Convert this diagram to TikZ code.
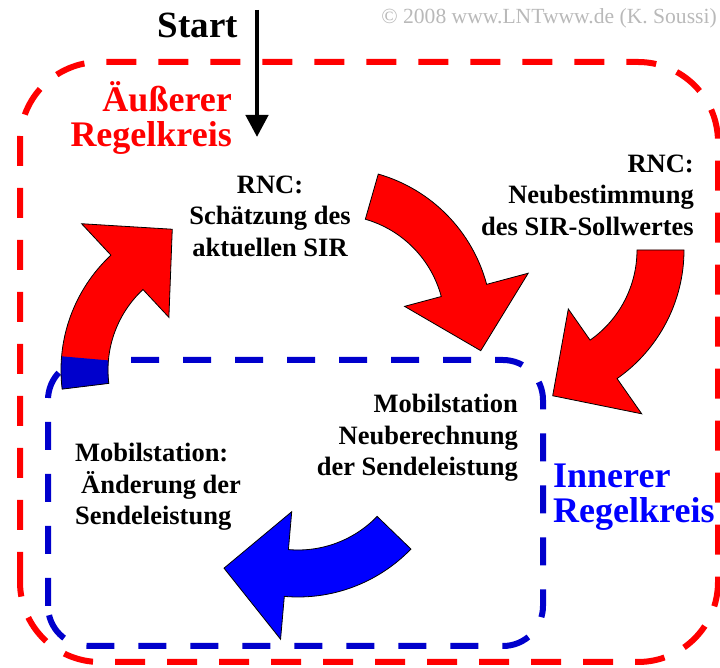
\documentclass[tikz,border=0pt]{standalone}
\usepackage{fontspec}
\setmainfont{Liberation Serif}
\usepackage{tikz}
\usetikzlibrary{arrows.meta,positioning}
\definecolor{loopred}{HTML}{FF0000}
\definecolor{loopblue}{HTML}{0000CC}
\definecolor{arrowblue}{HTML}{0000FF}
\definecolor{graytext}{HTML}{B9B9B9}
\newcommand{\bendarrow}[4]{%
  \path[#1, shift={#2}] (#3:157pt) arc[start angle=#3, end angle=#4, radius=157pt]
    -- (#4:200pt) -- ({#4-25}:148pt) -- (#4:72pt) -- (#4:110pt)
    arc[start angle=#4, end angle=#3, radius=110pt] -- cycle;}

\begin{document}
\begin{tikzpicture}[
  x=1pt, y=1pt,
  outerloop/.style={draw=loopred, line width=6pt, dash pattern=on 30pt off 22pt},
  innerloop/.style={draw=loopblue, line width=6pt, dash pattern=on 28pt off 24pt},
  bent/.style={draw=black, line width=0.8pt},
  label/.style={font=\bfseries\fontsize{26.5}{31.5}\selectfont, align=center, inner sep=0pt},
  looptitle/.style={font=\bfseries\fontsize{36}{35}\selectfont, inner sep=0pt},
  startarrow/.style={-{Triangle[length=22pt,width=22pt]}, line width=4.5pt}
]
\useasboundingbox (0,0) rectangle (720,668);
\draw[outerloop, rounded corners=80pt] (20,6) rectangle (718,606);
\draw[innerloop, rounded corners=40pt] (48,22) rectangle (543,308);

\bendarrow{fill=loopred}{(218,298)}{187}{133}
\fill[loopblue, shift={(218,298)}] (187:157pt) arc[start angle=187, end angle=175, radius=157pt]
  -- (175:110pt) arc[start angle=175, end angle=187, radius=110pt] -- cycle;
\bendarrow{bent}{(218,298)}{187}{133}
\bendarrow{bent, fill=loopred}{(335,343)}{74}{15}
\bendarrow{bent, fill=loopred}{(527,418)}{0}{-55}
\bendarrow{bent, fill=arrowblue}{(298,228)}{-44}{-95}

\node[font=\bfseries\fontsize{37}{40}\selectfont, inner sep=0pt] (start) at (198,643) {Start};
\coordinate (starttop) at (257,658);
\coordinate (startend) at (257,531);
\draw[startarrow] (starttop) -- (startend);
\node[anchor=east, text=graytext, font=\fontsize{21.6}{24}\selectfont, inner sep=0pt] (copyright)
  at (717,650) {© 2008 www.LNTwww.de (K. Soussi)};

\node[looptitle, text=loopred, align=right, anchor=east] (outertitle) at (232,550) {Äußerer\\Regelkreis};
\node[looptitle, text=arrowblue, align=left, anchor=west] (innertitle) at (553,171) {Innerer\\Regelkreis};

\node[label] (estimate) at (270,452) {RNC:\\Schätzung des\\aktuellen SIR};
\node[label, align=right, anchor=east] (target) at (694,473) {RNC:\\Neubestimmung\\des SIR-Sollwertes};
\node[label, align=right, anchor=east] (recalc) at (518,230) {Mobilstation\\Neuberechnung\\der Sendeleistung};
\node[label, align=left, anchor=west] (change) at (75,181) {Mobilstation:\\\hspace*{6pt}Änderung der\\Sendeleistung};
\end{tikzpicture}
\end{document}
